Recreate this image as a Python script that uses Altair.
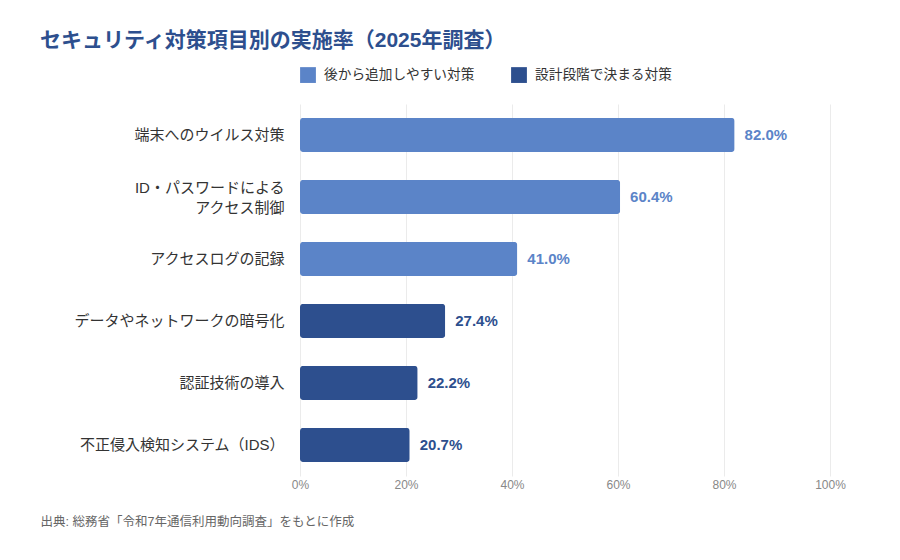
import altair as alt
import pandas as pd

categories = ["端末へのウイルス対策", "ID・パスワードによる\nアクセス制御", "アクセスログの記録",
              "データやネットワークの暗号化", "認証技術の導入", "不正侵入検知システム（IDS）"]
values = [82.0, 60.4, 41.0, 27.4, 22.2, 20.7]
groups = ["後から追加しやすい対策"] * 3 + ["設計段階で決まる対策"] * 3
group_order = ["後から追加しやすい対策", "設計段階で決まる対策"]
group_colors = ["#5b84c8", "#2d4f8e"]
x_ticks = [0, 20, 40, 60, 80, 100]

df = pd.DataFrame({"cat": categories, "val": values, "grp": groups})
df["label"] = df["val"].map(lambda v: f"{v:.1f}%")

FONT = "Liberation Sans, Noto Sans CJK JP, sans-serif"

color = alt.Color("grp:N", scale=alt.Scale(domain=group_order, range=group_colors),
                  legend=alt.Legend(title=None, orient="none", legendX=0, legendY=-37,
                                    direction="horizontal", symbolType="square",
                                    symbolSize=250, symbolStrokeWidth=0, symbolOpacity=1,
                                    labelFontSize=13.7, labelColor="#333333", labelFont=FONT,
                                    columnPadding=36, labelOffset=8))

y = alt.Y("cat:N", sort=categories, title=None,
          scale=alt.Scale(paddingInner=0.45, paddingOuter=0.225),
          axis=alt.Axis(labelExpr="split(datum.label, '\\n')", labelFontSize=15,
                        labelColor="#333333", labelFont=FONT, labelPadding=16,
                        labelOffset={"condition": {"test": "indexof(datum.label, '\\n') >= 0",
                                                   "value": -9}, "value": 0},
                        labelLimit=300, labelLineHeight=20, ticks=False, domain=False))

x = alt.X("val:Q", scale=alt.Scale(domain=[0, 100], nice=False),
          axis=alt.Axis(values=x_ticks, labelExpr="datum.value + '%'", labelFontSize=12,
                        labelColor="#888888", labelFont=FONT, labelPadding=3,
                        labelFlush=False,
                        ticks=False, domain=False, grid=True, gridColor="#ebebeb",
                        title="出典: 総務省「令和7年通信利用動向調査」をもとに作成",
                        titleFont=FONT, titleFontSize=12.5, titleFontWeight="normal",
                        titleColor="#666666", titleAnchor="start", titleAlign="left",
                        titleX=-260, titleY=45, titleBaseline="middle"))

base = alt.Chart(df)
bars = base.mark_bar(cornerRadius=3).encode(x=x, y=y, color=color)
texts = base.mark_text(align="left", baseline="middle", dx=10, fontSize=15,
                       fontWeight="bold", font=FONT).encode(
    x=alt.X("val:Q"), y=alt.Y("cat:N", sort=categories), text="label:N",
    color=alt.Color("grp:N", legend=None))

chart = (bars + texts).properties(
    width=530, height=372,
    autosize=alt.AutoSizeParams(type="none"),
    padding={"left": 292, "top": 96, "right": 62, "bottom": 70},
    title=alt.TitleParams("セキュリティ対策項目別の実施率（2025年調査）", anchor="start",
                          frame="group", dx=-260, fontSize=21, fontWeight="bold",
                          color="#2d4f8e", font=FONT, offset=16),
).configure_view(stroke=None)

chart.save("out.html", embed_options={"renderer": "svg", "actions": False})
